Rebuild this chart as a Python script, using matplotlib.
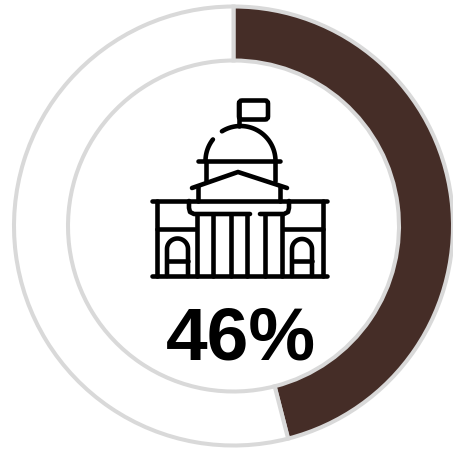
import numpy as np
import matplotlib
matplotlib.use('Agg')
import matplotlib.pyplot as plt
from matplotlib.patches import FancyBboxPatch

# donut values
shares = [46, 54]
colors = ['#452d27', '#ffffff']
label = '46%'

fig = plt.figure(figsize=(4.53, 4.52), dpi=100)
ax = fig.add_axes([0, 0, 1, 1])
ax.pie(shares, colors=colors, startangle=90, counterclock=False, center=(233.5, 225), radius=219.5,
       wedgeprops=dict(width=54, edgecolor='#d9d9d9', linewidth=2.9))
ax.set_xlim(0, 453)
ax.set_ylim(0, 452)
ax.axis('off')

# icon drawn in pixel coords, y pointing down
ic = fig.add_axes([0, 0, 1, 1])
ic.set_xlim(0, 453)
ic.set_ylim(452, 0)
ic.axis('off')
ic.patch.set_alpha(0)


def stroke(xs, ys):
    ic.plot(xs, ys, color='black', lw=3.3, solid_capstyle='round', solid_joinstyle='round')


def arc(cx, cy, r, a0, a1):
    t = np.radians(np.linspace(a0, a1, 40))
    return cx + r * np.cos(t), cy - r * np.sin(t)


# base and top beam
stroke([152, 327], [277, 277])
stroke([152, 327], [202, 202])
stroke([157, 157], [202, 277])
stroke([323, 323], [202, 277])
stroke([157, 195], [230, 230])
stroke([283, 323], [230, 230])

# columns
for x in [197, 213, 231, 247, 265, 282]:
    stroke([x, x], [215, 277])

# capital under the beam
stroke([189, 189, 190, 194, 250], [202, 209, 213, 215, 215])
stroke([260, 284, 288, 289, 289], [215, 215, 213, 209, 202])

# pediment
stroke([192, 238, 287], [189, 173, 189])
stroke([198, 198], [187, 202])
stroke([280, 280], [187, 202])

# drum
stroke([198, 280], [162, 162])
stroke([206, 206], [162, 182])
stroke([275, 275], [162, 182])

# dome with the small gap on the left
x, y = arc(240.5, 162, 35, 0, 122)
stroke(x, y)
x, y = arc(240.5, 162, 35, 142, 180)
stroke(x, y)

# flag
stroke([239, 239], [104, 127])
ic.add_patch(FancyBboxPatch((241.5, 104), 24, 14, boxstyle='round,pad=2.5,rounding_size=3',
                            fc='none', ec='black', lw=3.3))

# arched windows
for x0, x1 in [(167, 188), (292, 312)]:
    r = (x1 - x0) / 2
    x, y = arc((x0 + x1) / 2, 250, r, 0, 180)
    stroke(np.r_[x1, x, x0], np.r_[277, y, 277])
    stroke([x0, x1], [262, 262])

ic.text(241, 340, label, fontsize=54, fontweight='bold', family=['Liberation Sans', 'DejaVu Sans'],
        ha='center', va='center', color='black')

fig.savefig('out.png', dpi=100)
